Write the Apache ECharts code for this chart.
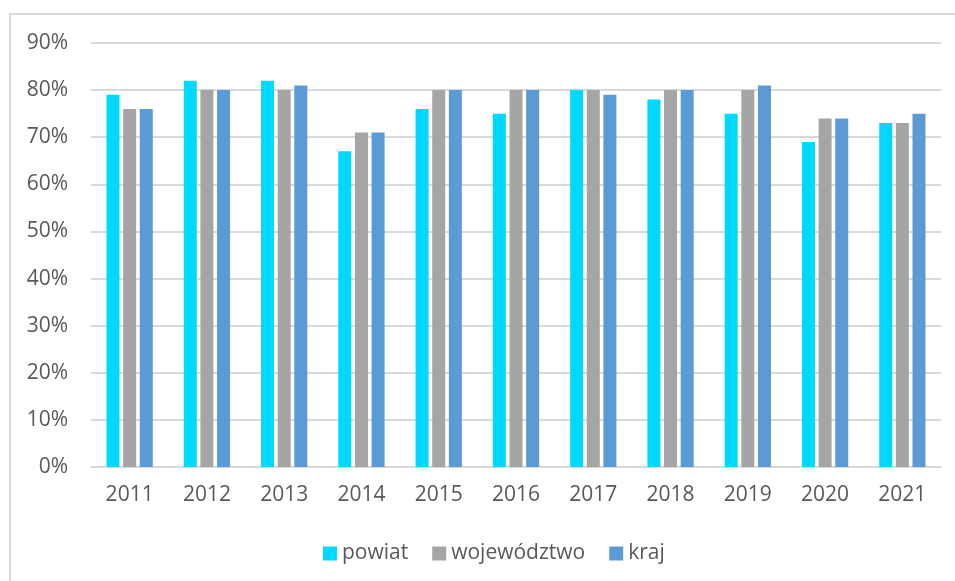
<!DOCTYPE html>
<html>
<head>
<meta charset="utf-8">
<script src="https://cdn.jsdelivr.net/npm/echarts@6/dist/echarts.min.js"></script>
<style>
  html, body { margin: 0; padding: 0; background: #fff; }
  #chart { width: 955px; height: 581px; }
</style>
</head>
<body>
<div id="chart"></div>
<script>
// lata
const years = ['2011', '2012', '2013', '2014', '2015', '2016', '2017', '2018', '2019', '2020', '2021']

// wartosci w %
const powiat = [79, 82, 82, 67, 76, 75, 80, 78, 75, 69, 73]
const wojewodztwo = [76, 80, 80, 71, 80, 80, 80, 80, 80, 74, 73]
const kraj = [76, 80, 81, 71, 80, 80, 79, 80, 81, 74, 75]

const seriesNames = ['powiat', 'województwo', 'kraj']
const colors = ['#00D9FF', '#A5A5A5', '#5B9BD5']

const chart = echarts.init(document.getElementById('chart'))

const makeBar = (name, data, i) => {
    return {
        name: name,
        type: 'bar',
        data: data,
        barWidth: 13,
        barGap: '28%',
        itemStyle: { color: colors[i] }
    }
}

let options = {
    animation: false,
    textStyle: { fontFamily: 'Open Sans, Noto Sans, sans-serif' },
    graphic: [{
        type: 'rect',
        shape: { x: 10, y: 14, width: 1000, height: 700 },
        style: { fill: 'none', stroke: '#D9D9D9', lineWidth: 2 },
        silent: true
    }],
    grid: { left: 91, right: 14, top: 43, bottom: 114 },
    legend: {
        top: 538,
        left: 318,
        itemWidth: 14,
        itemHeight: 14,
        itemGap: 24,
        icon: 'rect',
        textStyle: { color: '#595959', fontSize: 21 },
        data: seriesNames
    },
    xAxis: {
        type: 'category',
        data: years,
        axisLine: { lineStyle: { color: '#D9D9D9', width: 2 } },
        axisTick: { show: false },
        axisLabel: { color: '#595959', fontSize: 21, margin: 18 }
    },
    yAxis: {
        type: 'value',
        min: 0,
        max: 90,
        interval: 10,
        axisLine: { show: false },
        axisTick: { show: false },
        axisLabel: { color: '#595959', fontSize: 21, margin: 23, formatter: '{value}%' },
        splitLine: { lineStyle: { color: '#D9D9D9', width: 2 } }
    },
    series: [
        makeBar(seriesNames[0], powiat, 0),
        makeBar(seriesNames[1], wojewodztwo, 1),
        makeBar(seriesNames[2], kraj, 2)
    ]
}

chart.setOption(options)
</script>
</body>
</html>
